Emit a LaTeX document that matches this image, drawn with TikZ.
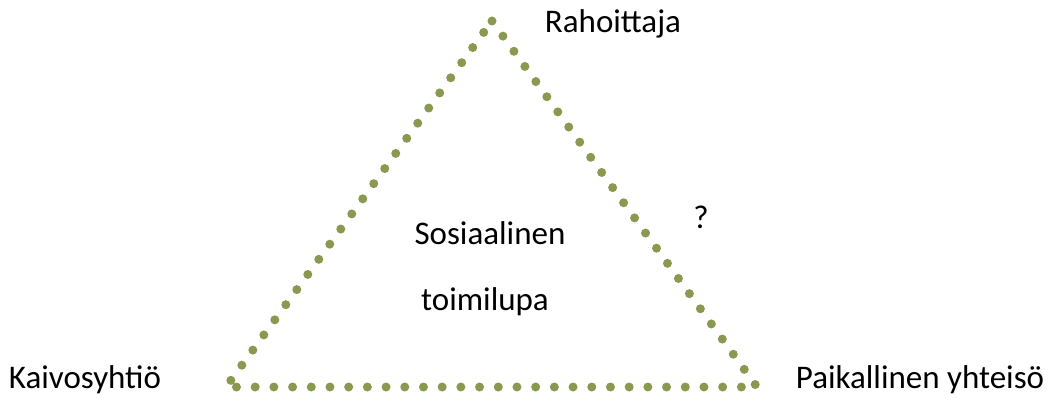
\documentclass[tikz,border=0pt]{standalone}
\usepackage{fontspec}
\setmainfont{Carlito}
\definecolor{olivedot}{RGB}{137,153,80}
\begin{document}
\begin{tikzpicture}[x=1pt,y=-1pt,
  lbl/.style={anchor=base,inner sep=0pt,font=\fontsize{33}{40}\selectfont},
  dotline/.style={draw=olivedot,line width=9pt,line cap=round,dash pattern=on 0pt off 18.7pt}]
\useasboundingbox (0,0) rectangle (1050,398);
\coordinate (top) at (492,21);
\coordinate (bl) at (226,387);
\coordinate (br) at (757,387);
\draw[dotline] (top) -- (br) -- (bl) -- cycle;
\node[lbl] (rah) at (613,33) {Rahoittaja};
\node[lbl] (kai) at (85,388) {Kaivosyhtiö};
\node[lbl] (pai) at (920,388) {Paikallinen yhteisö};
\node[lbl] (sos) at (490,245) {Sosiaalinen};
\node[lbl] (toi) at (485,310) {toimilupa};
\node[lbl] (q) at (701,229) {?};
\end{tikzpicture}
\end{document}
